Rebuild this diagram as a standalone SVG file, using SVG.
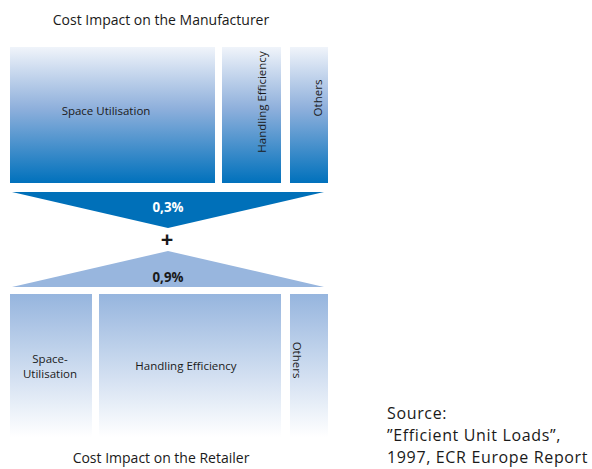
<svg xmlns="http://www.w3.org/2000/svg" width="592" height="469" viewBox="0 0 592 469">
<defs>
<linearGradient id="gTop" x1="0" y1="0" x2="0" y2="1">
<stop offset="0" stop-color="#f0f4fa"/>
<stop offset="0.45" stop-color="#8fb0dc"/>
<stop offset="1" stop-color="#0071bc"/>
</linearGradient>
<linearGradient id="gBot" x1="0" y1="0" x2="0" y2="1">
<stop offset="0" stop-color="#96b5de"/>
<stop offset="1" stop-color="#ffffff"/>
</linearGradient>
<style>
text{font-family:"Open Sans","Noto Sans","Liberation Sans",sans-serif;fill:#1a1a1a;}
.lbl{font-size:11.5px;}
.title{font-size:14px;text-anchor:middle;}
.pct{font-size:13.5px;font-weight:bold;text-anchor:middle;}
.src{font-size:16px;letter-spacing:0.65px;}
</style>
</defs>
<text class="title" x="161" y="25">Cost Impact on the Manufacturer</text>
<g id="m-space"><rect x="10" y="47" width="205" height="136" fill="url(#gTop)"/><text class="lbl" x="106" y="115" text-anchor="middle">Space Utilisation</text></g>
<g id="m-handling"><rect x="222" y="47" width="59" height="136" fill="url(#gTop)"/><text class="lbl" transform="translate(266,102) rotate(-90)" text-anchor="middle">Handling Efficiency</text></g>
<g id="m-others"><rect x="290" y="47" width="38" height="136" fill="url(#gTop)"/><text class="lbl" transform="translate(322,98) rotate(-90)" text-anchor="middle">Others</text></g>
<g id="tri-top"><polygon points="12,192 324,192 168,228" fill="#0070b9"/><text class="pct" x="168" y="212" textLength="31" lengthAdjust="spacingAndGlyphs" style="fill:#ffffff">0,3%</text></g>
<g id="plus"><text x="167" y="247" text-anchor="middle" style="font-size:22px;font-weight:bold;">+</text></g>
<g id="tri-bot"><polygon points="12,287 324,287 168,251" fill="#98b6de"/><text class="pct" x="168" y="282" textLength="31" lengthAdjust="spacingAndGlyphs">0,9%</text></g>
<g id="r-space"><rect x="10" y="294" width="82" height="143" fill="url(#gBot)"/><text class="lbl" x="50" y="363" text-anchor="middle">Space-</text><text class="lbl" x="50" y="378" text-anchor="middle">Utilisation</text></g>
<g id="r-handling"><rect x="99" y="294" width="182" height="143" fill="url(#gBot)"/><text class="lbl" x="186" y="370" text-anchor="middle">Handling Efficiency</text></g>
<g id="r-others"><rect x="290" y="294" width="38" height="143" fill="url(#gBot)"/><text class="lbl" transform="translate(293,360) rotate(90)" text-anchor="middle">Others</text></g>
<text class="title" x="161" y="463">Cost Impact on the Retailer</text>
<g id="source"><text class="src" x="387" y="419">Source:</text><text class="src" x="387" y="441">”Efficient Unit Loads”,</text><text class="src" x="387" y="463">1997, ECR Europe Report</text></g>
<g id="connectors"></g>
</svg>
